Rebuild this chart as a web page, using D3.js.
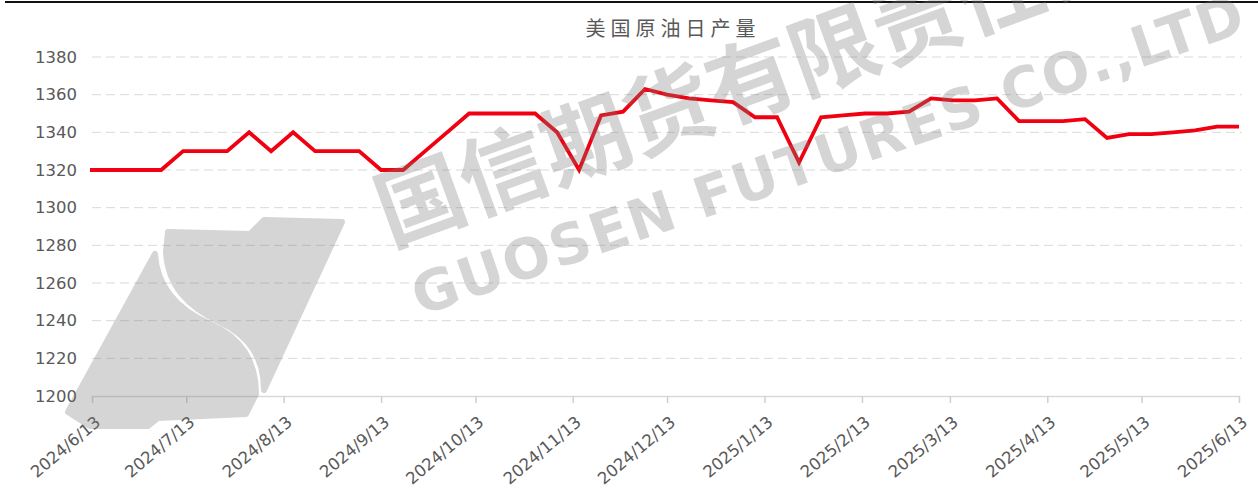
<!DOCTYPE html>
<html>
<head>
<meta charset="utf-8">
<script src="https://cdn.jsdelivr.net/npm/d3@7"></script>
<style>
  body { margin: 0; background: #fff; }
  svg { display: block; }
</style>
</head>
<body>
<svg id="svg1" width="1258" height="488"></svg>
<script>
// weekly US crude output (10k bbl/day), Friday dates
var weekDates = ["2024-06-07","2024-06-14","2024-06-21","2024-06-28","2024-07-05","2024-07-12","2024-07-19","2024-07-26",
  "2024-08-02","2024-08-09","2024-08-16","2024-08-23","2024-08-30","2024-09-06","2024-09-13","2024-09-20","2024-09-27",
  "2024-10-04","2024-10-11","2024-10-18","2024-10-25","2024-11-01","2024-11-08","2024-11-15","2024-11-22","2024-11-29",
  "2024-12-06","2024-12-13","2024-12-20","2024-12-27","2025-01-03","2025-01-10","2025-01-17","2025-01-24","2025-01-31",
  "2025-02-07","2025-02-14","2025-02-21","2025-02-28","2025-03-07","2025-03-14","2025-03-21","2025-03-28","2025-04-04",
  "2025-04-11","2025-04-18","2025-04-25","2025-05-02","2025-05-09","2025-05-16","2025-05-23","2025-05-30","2025-06-06",
  "2025-06-13"];
var production = [1320,1320,1320,1320,1320,1330,1330,1330,
  1340,1330,1340,1330,1330,1330,1320,1320,1330,
  1340,1350,1350,1350,1350,1340,1320,1349,1351,
  1363,1360,1358,1357,1356,1348,1348,1324,1348,
  1349,1350,1350,1351,1358,1357,1357,1358,1346,
  1346,1346,1347,1337,1339,1339,1340,1341,1343,
  1343];
var xTickDates = ["2024-06-13","2024-07-13","2024-08-13","2024-09-13","2024-10-13","2024-11-13","2024-12-13",
  "2025-01-13","2025-02-13","2025-03-13","2025-04-13","2025-05-13","2025-06-13"];
var yTicks = [1200,1220,1240,1260,1280,1300,1320,1340,1360,1380];
var title = "美国原油日产量";

var parse = d3.timeParse("%Y-%m-%d");
var fmt = d3.timeFormat("%Y/%-m/%-d");

var svg = d3.select('svg');

var x = d3.scaleTime()
    .domain([parse("2024-06-13"), parse("2025-06-13")])
    .range([92, 1239]);
var y = d3.scaleLinear()
    .domain([1200, 1380])
    .range([396, 57]);

// top border line from the page
svg.append('line')
    .attr('x1', 5).attr('x2', 1258).attr('y1', 2).attr('y2', 2)
    .attr('stroke', '#111').attr('stroke-width', 2);

// gridlines
svg.selectAll('line.grid')
    .data(yTicks.slice(1))
    .enter()
    .append('line')
    .attr('class', 'grid')
    .attr('x1', 92).attr('x2', 1242)
    .attr('y1', function(d){ return y(d); })
    .attr('y2', function(d){ return y(d); })
    .attr('stroke', '#d9d9d9')
    .attr('stroke-dasharray', '9,5');

// y labels
var yAxis = svg.append('g')
    .attr('transform', 'translate(92,0)')
    .call(d3.axisLeft(y).tickValues(yTicks).tickSize(0).tickPadding(15).tickFormat(d3.format('d')));
yAxis.select('.domain').remove();
yAxis.selectAll('text')
    .attr('font-family', 'DejaVu Sans')
    .attr('font-size', 16.5)
    .attr('fill', '#595959');

// x axis
var xAxis = svg.append('g')
    .attr('transform', 'translate(0,396)')
    .call(d3.axisBottom(x)
        .tickValues(xTickDates.map(parse))
        .tickSize(7)
        .tickSizeOuter(0)
        .tickFormat(fmt));
xAxis.select('.domain').attr('stroke', '#d9d9d9').attr('stroke-width', 1.5);
xAxis.selectAll('.tick line').attr('stroke', '#d0d0d0').attr('stroke-width', 1.5);
xAxis.selectAll('text')
    .attr('font-family', 'DejaVu Sans')
    .attr('font-size', 16.5)
    .attr('fill', '#595959')
    .attr('text-anchor', 'end')
    .attr('y', 0).attr('dy', 0)
    .attr('transform', 'translate(9,28) rotate(-40)');

// title
svg.append('text')
    .attr('x', 673).attr('y', 36)
    .attr('text-anchor', 'middle')
    .attr('font-family', 'Noto Sans CJK SC')
    .attr('font-size', 20)
    .attr('letter-spacing', 5)
    .attr('fill', '#595959')
    .text(title);

// data line
svg.append('clipPath').attr('id', 'plotclip')
    .append('rect').attr('x', 90).attr('y', 0).attr('width', 1152).attr('height', 488);

var line = d3.line()
    .x(function(d, i){ return x(parse(weekDates[i])); })
    .y(function(d){ return y(d); });

svg.append('path')
    .datum(production)
    .attr('clip-path', 'url(#plotclip)')
    .attr('d', line)
    .attr('fill', 'none')
    .attr('stroke', '#f00010')
    .attr('stroke-width', 3.8)
    .attr('stroke-linejoin', 'miter');

// watermark (drawn on top, translucent)
var wm = svg.append('g').attr('fill', '#7a7a7a').attr('opacity', 0.32);

// logo: two slanted pieces split by an S-shaped gap
wm.append('path')
    .attr('stroke', '#7a7a7a').attr('stroke-width', 6).attr('stroke-linejoin', 'round')
    .attr('d', 'M155,254 C157,288 178,310 210,324 C242,338 256,362 256,394 L246,414 L158,418 L148,426 L90,426 L68,412 Z');
wm.append('path')
    .attr('stroke', '#7a7a7a').attr('stroke-width', 6).attr('stroke-linejoin', 'round')
    .attr('d', 'M166,252 L168,232 L250,234 L264,220 L342,222 L264,390 C264,358 250,336 220,322 C188,307 168,286 166,252 Z');

wm.append('text')
    .attr('transform', 'translate(390,246) rotate(-20)')
    .attr('font-family', 'Noto Sans CJK SC')
    .attr('font-weight', 'bold')
    .attr('font-size', 88)
    .text('国信期货有限责任公司');

wm.append('text')
    .attr('transform', 'translate(420,316) rotate(-19)')
    .attr('font-family', 'DejaVu Sans')
    .attr('font-weight', 'bold')
    .attr('font-size', 56)
    .attr('letter-spacing', 2)
    .text('GUOSEN FUTURES CO.,LTD');
</script>
</body>
</html>
